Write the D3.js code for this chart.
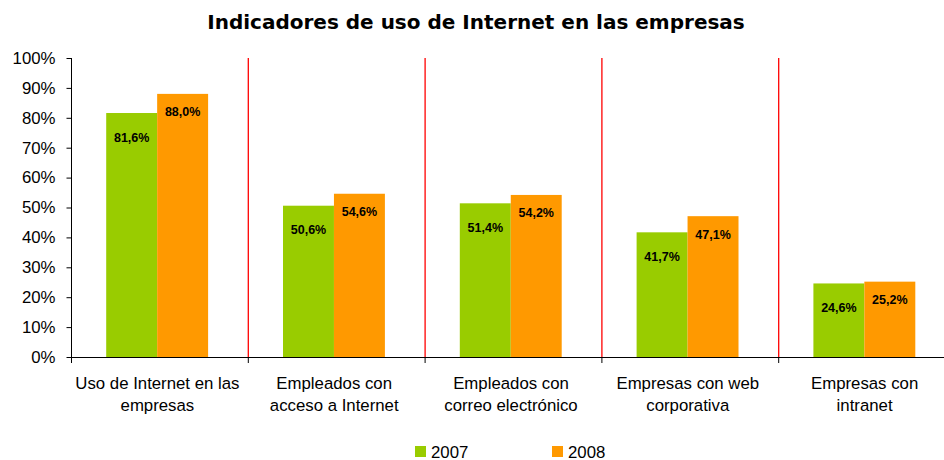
<!DOCTYPE html>
<html><head><meta charset="utf-8">
<script src="https://cdn.jsdelivr.net/npm/d3@7"></script>
<style>body{margin:0;background:#fff}svg{display:block}</style>
</head><body>
<svg id="c" width="944" height="460"></svg>
<script>
const title = "Indicadores de uso de Internet en las empresas";
const categories = [
  ["Uso de Internet en las", "empresas"],
  ["Empleados con", "acceso a Internet"],
  ["Empleados con", "correo electrónico"],
  ["Empresas con web", "corporativa"],
  ["Empresas con", "intranet"]
];
const seriesNames = ["2007", "2008"];
const values2007 = [81.6, 50.6, 51.4, 41.7, 24.6];
const values2008 = [88.0, 54.6, 54.2, 47.1, 25.2];
const valueLabels2007 = ["81,6%", "50,6%", "51,4%", "41,7%", "24,6%"];
const valueLabels2008 = ["88,0%", "54,6%", "54,2%", "47,1%", "25,2%"];
const yTicks = [0, 10, 20, 30, 40, 50, 60, 70, 80, 90, 100];
const colors = ["#99cc00", "#ff9900"];

(function () {
const svg = d3.select("#c");
const pLeft = 71, pRight = 955, pTop = 58, pBottom = 357;
const catIdx = categories.map((d, i) => i);
const x0 = d3.scaleBand().domain(catIdx).range([pLeft, pRight]).padding(0);
const x1 = d3.scaleBand().domain(seriesNames).range([0, x0.bandwidth()])
  .paddingInner(0).paddingOuter(0.735).align(0.47);
const y = d3.scaleLinear().domain([0, 100]).range([pBottom, pTop]);

// Title
const t = svg.append("text").attr("x", 476).attr("y", 29).attr("text-anchor", "middle")
  .attr("font-family", "DejaVu Sans").attr("font-weight", "bold").attr("font-size", 17)
  .attr("fill", "#000").text(title);
const tw = t.node().getComputedTextLength();
t.attr("font-size", 17 * 538 / tw);

// Separators
svg.append("g").selectAll("line").data(catIdx.slice(1)).join("line")
  .attr("x1", d => x0(d) + 0.5).attr("x2", d => x0(d) + 0.5)
  .attr("y1", pTop).attr("y2", pBottom)
  .attr("stroke", "#ff0000").attr("stroke-width", 1.3);

// Bars
const series = [values2007, values2008];
const labels = [valueLabels2007, valueLabels2008];
const offs = [24, 18];
series.forEach((vals, s) => {
  const g = svg.append("g");
  g.selectAll("rect").data(vals).join("rect")
    .attr("x", (d, i) => x0(i) + x1(seriesNames[s]))
    .attr("width", x1.bandwidth())
    .attr("y", d => y(d)).attr("height", d => y(0) - y(d))
    .attr("fill", colors[s]);
  g.selectAll("text").data(vals).join("text")
    .attr("x", (d, i) => x0(i) + x1(seriesNames[s]) + x1.bandwidth() / 2)
    .attr("y", d => y(d) + offs[s] + 4.5)
    .attr("text-anchor", "middle")
    .attr("font-family", "Liberation Sans, Arial").attr("font-weight", "bold").attr("font-size", 12.5)
    .attr("fill", "#000")
    .text((d, i) => labels[s][i]);
});

// Y axis
const yAxis = svg.append("g").attr("transform", `translate(${pLeft + 0.5},0)`)
  .call(d3.axisLeft(y).tickValues(yTicks).tickFormat(d => d + "%").tickSize(5).tickPadding(11));
yAxis.select(".domain").attr("stroke", "#000").attr("d", `M0,${pTop}V${pBottom}`);
yAxis.selectAll(".tick line").attr("stroke", "#000");
yAxis.selectAll(".tick text").attr("font-family", "Liberation Sans, Arial").attr("font-size", 16.8).attr("fill", "#000");

// X axis
svg.append("line").attr("x1", pLeft).attr("x2", 944).attr("y1", pBottom + 0.5).attr("y2", pBottom + 0.5)
  .attr("stroke", "#000");
svg.append("g").selectAll("line").data(catIdx).join("line")
  .attr("x1", d => x0(d) + 0.5).attr("x2", d => x0(d) + 0.5)
  .attr("y1", pBottom).attr("y2", pBottom + 6).attr("stroke", "#000");

// Category labels
const cl = svg.append("g").selectAll("text").data(categories).join("text")
  .attr("x", (d, i) => x0(i) + x0.bandwidth() / 2 - 2)
  .attr("y", 389)
  .attr("text-anchor", "middle")
  .attr("font-family", "Liberation Sans, Arial").attr("font-size", 16.8).attr("fill", "#000");
cl.selectAll("tspan").data(d => d).join("tspan")
  .attr("x", function() { return d3.select(this.parentNode).attr("x"); })
  .attr("dy", (d, j) => j === 0 ? 0 : 22)
  .text(d => d);

// Legend
const legX = [415, 552];
const lg = svg.append("g").selectAll("g").data(seriesNames).join("g")
  .attr("transform", (d, i) => `translate(${legX[i]},446)`);
lg.append("rect").attr("width", 11).attr("height", 11).attr("fill", (d, i) => colors[i]);
lg.append("text").attr("x", 16).attr("y", 11.5)
  .attr("font-family", "Liberation Sans, Arial").attr("font-size", 16.8).attr("fill", "#000")
  .text(d => d);
})();
</script>
</body></html>
